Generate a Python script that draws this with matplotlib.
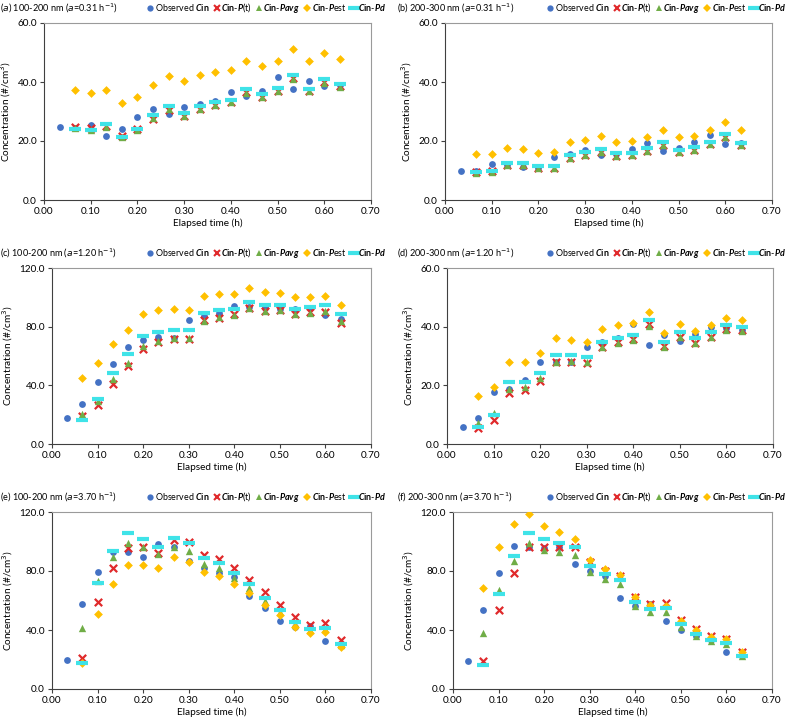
import matplotlib.pyplot as plt
from matplotlib.lines import Line2D

plt.rcParams['font.family'] = ['Lato', 'DejaVu Sans']
plt.rcParams['mathtext.fontset'] = 'custom'
plt.rcParams['mathtext.bfit'] = 'Lato:bold:italic'
plt.rcParams['mathtext.bf'] = 'Lato:bold'

# elapsed time (h): observed starts at 1/30 h, models at 2/30 h
t_obs = [k / 30 for k in range(1, 20)]
t_mod = [k / 30 for k in range(2, 20)]

# (a) 100-200 nm, a=0.31
a_obs = [24.6, 24.5, 25.5, 21.6, 23.9, 28.2, 30.9, 29.1, 31.4, 32.5, 33.5, 36.7, 35.2, 37.1, 41.6, 37.5, 40.3, 38.7, 39.1]
a_pt = [24.7, 24.4, 25.1, 21.7, 24.2, 27.6, 30.5, 28.4, 30.9, 32.2, 33.3, 36.5, 34.8, 37.1, 41.3, 37.0, 40.1, 38.5]
a_pavg = [24.4, 23.8, 24.9, 21.2, 23.8, 27.7, 30.8, 28.6, 30.9, 32.3, 33.2, 36.4, 34.8, 37.0, 41.0, 36.9, 39.8, 38.4]
a_pest = [37.3, 36.2, 37.3, 33.0, 35.0, 39.1, 42.1, 40.2, 42.4, 43.3, 43.9, 47.2, 45.3, 47.0, 51.1, 47.2, 49.9, 47.9]
a_pd = [24.2, 23.8, 25.9, 21.2, 24.1, 28.8, 31.9, 29.4, 31.9, 33.2, 34.0, 37.6, 36.0, 38.1, 42.4, 37.7, 41.1, 39.3]

# (b) 200-300 nm, a=0.31
b_obs = [9.8, 9.9, 12.2, 12.0, 11.3, 11.0, 14.7, 15.6, 16.9, 15.4, 15.7, 17.2, 19.3, 16.7, 17.5, 19.5, 22.0, 19.0, 19.3]
b_pt = [9.4, 9.7, 11.9, 11.9, 10.9, 10.9, 14.4, 15.3, 16.4, 15.0, 15.3, 16.6, 18.7, 16.3, 16.9, 19.0, 21.4, 18.6]
b_pavg = [9.3, 9.6, 11.8, 11.8, 10.8, 10.8, 14.3, 15.2, 16.3, 14.9, 15.2, 16.5, 18.6, 16.2, 16.8, 18.9, 21.3, 18.5]
b_pest = [15.7, 15.7, 17.7, 17.2, 15.8, 16.2, 19.7, 20.5, 21.7, 19.7, 20.1, 21.5, 23.6, 21.2, 21.7, 23.6, 26.3, 23.6]
b_pd = [9.5, 9.9, 12.7, 12.4, 11.4, 11.4, 15.3, 16.2, 17.4, 15.9, 15.9, 17.6, 19.7, 17.1, 18.0, 19.8, 22.5, 19.3]

# (c) 100-200 nm, a=1.20
c_obs = [17.5, 27.2, 42.0, 54.4, 66.2, 70.6, 72.8, 72.0, 84.6, 87.6, 89.2, 94.4, 93.5, 92.8, 92.0, 92.3, 93.0, 87.8, 85.0]
c_pt = [19.3, 26.5, 41.1, 53.3, 64.9, 69.4, 71.9, 71.9, 84.6, 86.0, 88.7, 93.0, 90.7, 91.2, 88.9, 90.0, 89.8, 82.3]
c_pavg = [20.6, 29.5, 44.0, 55.4, 66.5, 70.1, 72.6, 72.4, 84.2, 86.4, 88.0, 92.6, 90.5, 91.2, 88.7, 89.6, 90.7, 84.2]
c_pest = [44.9, 54.9, 68.3, 78.0, 88.7, 91.2, 91.9, 91.2, 101.2, 102.5, 102.5, 106.6, 103.4, 103.0, 100.3, 100.3, 100.7, 94.8]
c_pd = [16.1, 30.6, 48.3, 61.3, 73.7, 76.7, 77.8, 77.6, 89.6, 91.7, 92.3, 96.9, 94.6, 94.8, 92.3, 93.2, 94.6, 88.5]

# (d) 200-300 nm, a=1.20
d_obs = [5.9, 9.0, 17.8, 18.7, 21.8, 27.8, 28.0, 28.0, 33.1, 34.7, 36.2, 40.9, 33.8, 37.2, 35.0, 37.5, 39.9, 39.5, 39.0]
d_pt = [5.3, 8.3, 17.5, 18.3, 21.5, 27.9, 27.9, 27.6, 33.1, 34.8, 35.7, 40.9, 33.3, 36.6, 34.3, 36.5, 39.1, 38.7]
d_pavg = [7.0, 10.4, 18.6, 19.5, 22.5, 28.0, 28.2, 27.8, 33.0, 34.4, 35.5, 40.3, 33.2, 36.6, 34.3, 36.4, 39.0, 38.6]
d_pest = [16.2, 19.5, 27.9, 28.1, 31.1, 36.0, 35.5, 34.8, 39.2, 40.4, 41.1, 45.1, 38.0, 40.8, 38.6, 40.4, 42.8, 42.3]
d_pd = [5.9, 9.9, 21.0, 21.0, 24.2, 30.3, 30.2, 29.6, 34.8, 36.3, 37.3, 42.2, 34.7, 38.1, 36.0, 38.2, 40.5, 39.9]

# (e) 100-200 nm, a=3.70
e_obs = [19.7, 57.8, 79.4, 93.0, 93.2, 89.6, 98.5, 96.0, 86.9, 82.3, 78.5, 75.8, 63.1, 54.7, 45.8, 41.7, 42.9, 32.7, 29.5]
e_pt = [20.9, 58.8, 81.7, 95.3, 96.6, 92.1, 100.7, 99.6, 90.7, 88.0, 81.9, 74.2, 65.6, 57.2, 48.5, 43.1, 44.7, 33.3]
e_pavg = [41.5, 73.3, 89.4, 98.7, 96.4, 91.4, 96.0, 93.7, 84.6, 81.9, 75.3, 68.5, 59.9, 51.9, 43.8, 39.7, 40.6, 29.5]
e_pest = [17.5, 51.0, 71.5, 84.4, 84.4, 81.9, 89.2, 86.4, 79.2, 76.7, 71.5, 65.3, 56.7, 49.9, 42.2, 38.1, 38.8, 28.6]
e_pd = [17.9, 71.9, 93.7, 105.5, 101.6, 96.2, 102.5, 98.7, 88.7, 85.1, 78.7, 71.5, 61.7, 53.3, 45.1, 40.6, 41.5, 30.4]

# (f) 200-300 nm, a=3.70
f_obs = [18.8, 53.8, 78.9, 96.9, 96.2, 95.3, 96.0, 84.6, 80.3, 76.7, 61.7, 56.3, 57.8, 46.3, 39.7, 36.1, 33.1, 25.2, 22.2]
f_pt = [18.8, 53.5, 78.5, 96.2, 96.2, 96.0, 96.2, 86.0, 79.9, 76.9, 62.4, 57.6, 58.5, 46.5, 40.4, 35.8, 34.0, 25.4]
f_pavg = [37.7, 67.2, 86.7, 99.1, 94.4, 93.2, 90.7, 79.6, 74.6, 71.2, 56.5, 52.0, 52.4, 41.7, 35.8, 32.4, 30.4, 22.5]
f_pest = [68.3, 96.2, 111.8, 118.9, 110.7, 106.4, 101.4, 87.6, 81.2, 77.4, 62.4, 56.7, 56.3, 46.1, 39.9, 35.2, 34.0, 25.4]
f_pd = [16.6, 64.4, 90.1, 105.7, 101.4, 98.9, 96.6, 83.3, 78.3, 74.0, 59.0, 54.0, 54.9, 43.8, 37.2, 33.1, 31.3, 22.7]

titles = [r'($a$) 100-200 nm ($a$=0.31 h$^{-1}$)', r'(b) 200-300 nm ($a$=0.31 h$^{-1}$)',
          r'(c) 100-200 nm ($a$=1.20 h$^{-1}$)', r'(d) 200-300 nm ($a$=1.20 h$^{-1}$)',
          r'(e) 100-200 nm ($a$=3.70 h$^{-1}$)', r'(f) 200-300 nm ($a$=3.70 h$^{-1}$)']
ymax = [60, 60, 120, 60, 120, 120]
panels = [(a_obs, a_pt, a_pavg, a_pest, a_pd), (b_obs, b_pt, b_pavg, b_pest, b_pd),
          (c_obs, c_pt, c_pavg, c_pest, c_pd), (d_obs, d_pt, d_pavg, d_pest, d_pd),
          (e_obs, e_pt, e_pavg, e_pest, e_pd), (f_obs, f_pt, f_pavg, f_pest, f_pd)]

# axes boxes in pixels: left, right, top, bottom
boxes = [(44, 371, 23, 200), (445, 772, 23, 200),
         (52, 371, 268, 444), (447, 773, 268, 444),
         (52, 371, 512, 689), (453, 772, 512, 689)]

c_blue, c_red, c_green, c_yel, c_cyan = '#4472C4', '#E0292B', '#70AD47', '#FFC000', '#3FE3E8'
labels = [r'Observed $\mathbfit{C}$$\mathbf{in}$',
          r'$\mathbfit{C}$$\mathbf{in}$-$\mathbfit{P}$(t)',
          r'$\mathbfit{C}$$\mathbf{in}$-$\mathbfit{Pavg}$',
          r'$\mathbfit{C}$$\mathbf{in}$-$\mathbfit{P}$est',
          r'$\mathbfit{C}$$\mathbf{in}$-$\mathbfit{Pd}$']

W, H = 787, 719
fs = 7.2
fig = plt.figure(figsize=(W / 100, H / 100), dpi=100)

for i, (obs, pt, pavg, pest, pd) in enumerate(panels):
    l, r, t, b = boxes[i]
    ax = fig.add_axes([l / W, 1 - b / H, (r - l) / W, (b - t) / H])
    ax.scatter(t_obs, obs, marker='o', s=24, color=c_blue, zorder=3, linewidths=0)
    ax.scatter(t_mod, pt, marker='x', s=28, color=c_red, linewidths=1.6, zorder=3)
    ax.scatter(t_mod, pavg, marker='^', s=28, color=c_green, zorder=3, linewidths=0)
    ax.scatter(t_mod, pest, marker='D', s=20, color=c_yel, zorder=3, linewidths=0)
    ax.scatter(t_mod, pd, marker='_', s=64, color=c_cyan, linewidths=3, zorder=3)
    ax.set_xlim(0, 0.7)
    ax.set_ylim(0, ymax[i])
    ax.set_xticks([k / 10 for k in range(8)])
    ax.set_xticklabels([f'{k / 10:.2f}' for k in range(8)])
    yt = [0, ymax[i] / 3, 2 * ymax[i] / 3, ymax[i]]
    ax.set_yticks(yt)
    ax.set_yticklabels([f'{v:.1f}' for v in yt])
    ax.tick_params(labelsize=fs, length=3, width=0.8, color='#404040', pad=2)
    for s in ['left', 'bottom']:
        ax.spines[s].set_color('#404040')
        ax.spines[s].set_linewidth(0.8)
    for s in ['top', 'right']:
        ax.spines[s].set_color('#9a9a9a')
        ax.spines[s].set_linewidth(0.8)
    ax.set_xlabel('Elapsed time (h)', fontsize=fs, labelpad=2)
    ax.set_ylabel('Concentration (#/cm$^3$)', fontsize=fs, labelpad=3)

    x0 = 0 if i % 2 == 0 else 397
    fig.text(x0 / W, 1 - (t - 15) / H, titles[i], fontsize=6.6, va='center', ha='left')

    handles = [Line2D([], [], marker='o', ls='', color=c_blue, markersize=4.5, markeredgewidth=0),
               Line2D([], [], marker='x', ls='', color=c_red, markersize=5, markeredgewidth=1.5),
               Line2D([], [], marker='^', ls='', color=c_green, markersize=5, markeredgewidth=0),
               Line2D([], [], marker='D', ls='', color=c_yel, markersize=4, markeredgewidth=0),
               Line2D([], [], marker='_', ls='', color=c_cyan, markersize=8, markeredgewidth=3)]
    xr = 386 if i % 2 == 0 else 786
    fig.legend(handles, labels, loc='center right', bbox_to_anchor=(xr / W, 1 - (t - 15) / H),
               ncol=5, frameon=False, fontsize=6.4, handletextpad=0.0, columnspacing=0.3,
               handlelength=1.0, borderpad=0, borderaxespad=0)

fig.savefig('out.png', dpi=100, facecolor='white')
